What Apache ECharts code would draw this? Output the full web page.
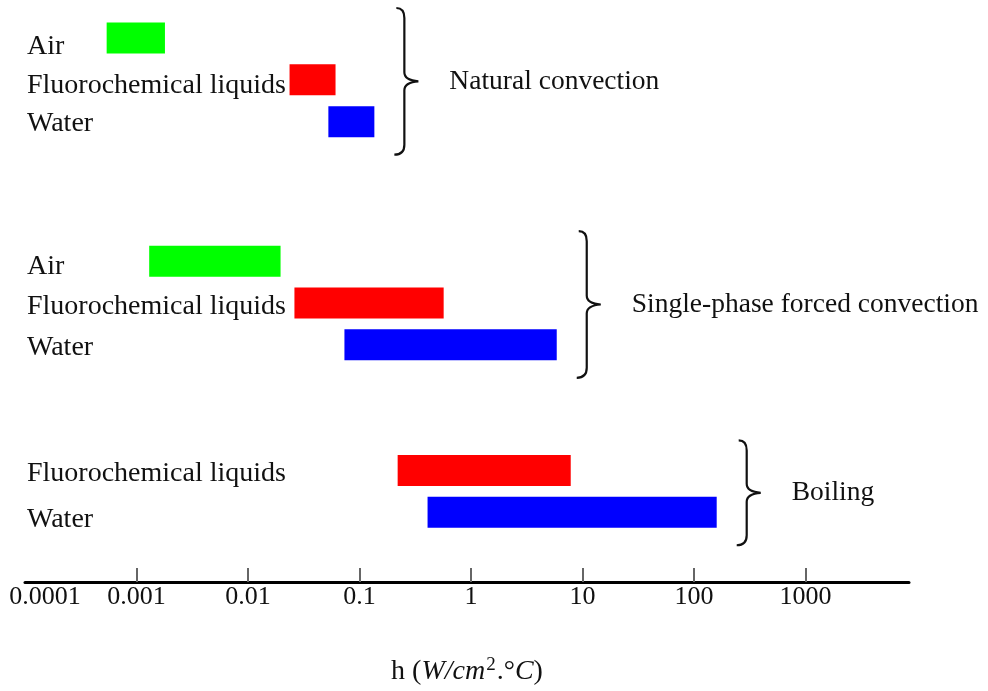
<!DOCTYPE html>
<html>
<head>
<meta charset="utf-8">
<script src="https://cdn.jsdelivr.net/npm/echarts@6/dist/echarts.min.js"></script>
<style>
html,body{margin:0;padding:0;background:#fff;}
#chart{width:988px;height:691px;}
</style>
</head>
<body>
<div id="chart"></div>
<script>
// ---- data ----
const materials = ['Air', 'Fluorochemical liquids', 'Water',
                   'Air', 'Fluorochemical liquids', 'Water',
                   'Fluorochemical liquids', 'Water'];
const regimes = ['Natural convection', 'Natural convection', 'Natural convection',
                 'Single-phase forced convection', 'Single-phase forced convection', 'Single-phase forced convection',
                 'Boiling', 'Boiling'];
const hLow  = [0.00054, 0.0236, 0.0526, 0.0013, 0.0261, 0.0733, 0.22, 0.408];
const hHigh = [0.0018, 0.061, 0.136, 0.0196, 0.569, 5.88, 7.85, 160];
const tickValues = [0.001, 0.01, 0.1, 1, 10, 100, 1000];
const labelValues = [0.0001, 0.001, 0.01, 0.1, 1, 10, 100, 1000];
const tickLabels = ['0.0001', '0.001', '0.01', '0.1', '1', '10', '100', '1000'];

// ---- styles / layout ----
const FONT = 'Liberation Serif';
const materialColor = {'Air': '#00ff00', 'Fluorochemical liquids': '#ff0000', 'Water': '#0000ff'};
const ROW_STEP = 3;          // category slots between rows in a group
const TOTAL_SLOTS = 40;
const labelShift = [18, 12, 4, 10, 8, 6, 6, 14]; // per-row label nudges (padding-top, px)

// build row positions on a category axis (spacers between groups)
const regimeOrder = [];
regimes.forEach(r => { if (regimeOrder.indexOf(r) < 0) regimeOrder.push(r); });
const groupGaps = [0, 10, 9];
const rowIndex = [];
let slot = 0;
for (let i = 0; i < materials.length; i++) {
  if (i > 0) slot += (regimes[i] === regimes[i - 1]) ? ROW_STEP : groupGaps[regimeOrder.indexOf(regimes[i])];
  rowIndex.push(slot);
}
const categories = new Array(TOTAL_SLOTS).fill('');
rowIndex.forEach((r, i) => { categories[r] = materials[i]; });

const labelRich = {};
labelShift.forEach((s, i) => {
  labelRich['r' + i] = {fontFamily: FONT, fontSize: 28, color: '#111', padding: [s, 0, 0, 0]};
});

const barData = materials.map((m, i) => [hLow[i], hHigh[i], rowIndex[i], i]);
const groupData = regimeOrder.map((g, gi) => {
  const idx = regimes.map((r, i) => r === g ? i : -1).filter(i => i >= 0);
  const maxEnd = Math.max.apply(null, idx.map(i => hHigh[i]));
  return [maxEnd, rowIndex[idx[0]], rowIndex[idx[idx.length - 1]], gi];
});

const chart = echarts.init(document.getElementById('chart'));
chart.setOption({
  backgroundColor: '#fff',
  animation: false,
  grid: {left: 25, right: 79, top: 38, bottom: 108, containLabel: false},
  xAxis: {
    type: 'log',
    logBase: 10,
    min: 0.0001,
    max: 8490,
    splitLine: {show: false},
    axisLine: {show: true, lineStyle: {color: '#000', width: 3}},
    axisTick: {show: true, inside: true, length: 14, lineStyle: {color: '#666', width: 2}, customValues: tickValues},
    axisLabel: {
      customValues: labelValues,
      margin: 2,
      color: '#111',
      fontFamily: FONT,
      fontSize: 26,
      formatter: function (v) {
        let best = 0, bd = Infinity;
        labelValues.forEach((lv, i) => { const d = Math.abs(Math.log10(lv) - Math.log10(v)); if (d < bd) { bd = d; best = i; } });
        return best === 0 ? '{first|' + tickLabels[0] + '}' : tickLabels[best];
      },
      rich: {first: {fontFamily: FONT, fontSize: 26, color: '#111', padding: [0, 0, 0, 40]}}
    },
    name: '{n|h (}{i|W/cm}{sup|2}{n|.°}{i|C}{n|)}',
    nameLocation: 'middle',
    nameGap: 74,
    nameTextStyle: {
      rich: {
        n: {fontFamily: FONT, fontSize: 28, color: '#111'},
        i: {fontFamily: FONT, fontSize: 28, fontStyle: 'italic', color: '#111'},
        sup: {fontFamily: FONT, fontSize: 19, color: '#111', padding: [0, 1, 13, 1]}
      }
    }
  },
  yAxis: {
    type: 'category',
    inverse: true,
    boundaryGap: false,
    data: categories,
    axisLine: {show: false},
    axisTick: {show: false},
    splitLine: {show: false},
    axisLabel: {
      inside: true, interval: 0, margin: 2, color: '#111', fontFamily: FONT, fontSize: 28,
      formatter: function (value, index) {
        const i = rowIndex.indexOf(index);
        return (i >= 0 && value) ? '{r' + i + '|' + value + '}' : '';
      },
      rich: labelRich
    }
  },
  series: [
    {
      type: 'custom',
      coordinateSystem: 'cartesian2d',
      encode: {x: [0, 1], y: 2},
      data: barData,
      renderItem: function (params, api) {
        const p0 = api.coord([api.value(0), api.value(2)]);
        const p1 = api.coord([api.value(1), api.value(2)]);
        const h = 31;
        const i = api.value(3);
        return {
          type: 'rect',
          shape: {x: p0[0], y: p0[1] - h / 2, width: p1[0] - p0[0], height: h},
          style: {fill: materialColor[materials[i]]}
        };
      }
    },
    {
      type: 'custom',
      coordinateSystem: 'cartesian2d',
      encode: {x: 0, y: [1, 2]},
      data: groupData,
      renderItem: function (params, api) {
        const a = api.coord([api.value(0), api.value(1)]);
        const b = api.coord([api.value(0), api.value(2)]);
        const x0 = a[0] + 30;
        const t = a[1] - 30, bt = b[1] + 33, m = (t + bt) / 2;
        const path = 'M' + (x0 - 8) + ',' + t +
          ' Q' + x0 + ',' + t + ' ' + x0 + ',' + (t + 10) +
          ' L' + x0 + ',' + (m - 9) +
          ' Q' + x0 + ',' + (m - 1) + ' ' + (x0 + 14) + ',' + m +
          ' Q' + x0 + ',' + (m + 1) + ' ' + x0 + ',' + (m + 9) +
          ' L' + x0 + ',' + (bt - 10) +
          ' Q' + x0 + ',' + bt + ' ' + (x0 - 10) + ',' + bt;
        return {
          type: 'group',
          children: [
            {type: 'path', shape: {pathData: path}, style: {fill: null, stroke: '#111', lineWidth: 2.2}},
            {type: 'text', x: x0 + 45, y: m, style: {text: regimeOrder[api.value(3)], fontFamily: FONT, fontSize: 27.5, fill: '#111', verticalAlign: 'middle', align: 'left'}}
          ]
        };
      }
    }
  ]
});
</script>
</body>
</html>
